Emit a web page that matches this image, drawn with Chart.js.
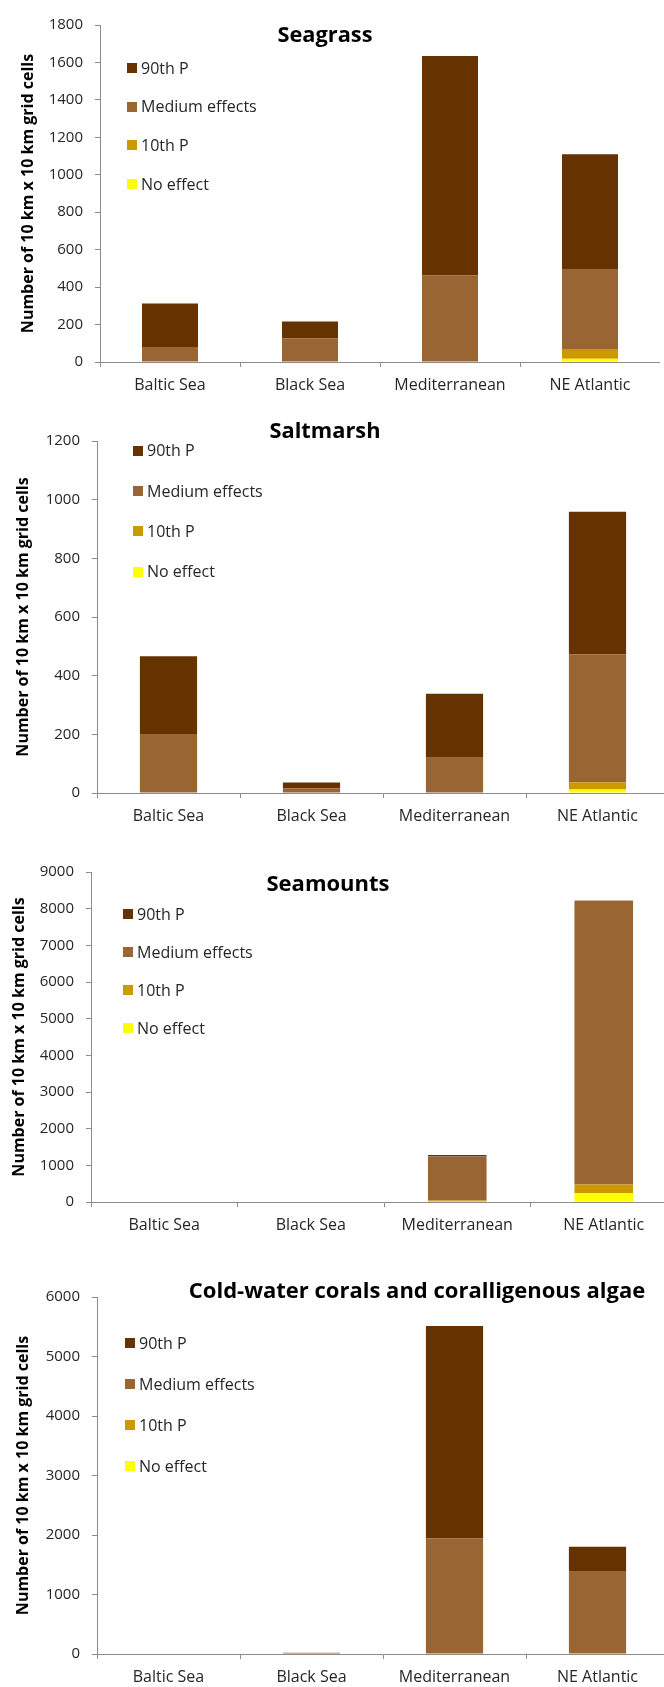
<!DOCTYPE html>
<html>
<head>
<meta charset="utf-8">
<title>Habitat effects by region</title>
<script src="https://cdn.jsdelivr.net/npm/chart.js@4.4.1/dist/chart.umd.min.js"></script>
<style>
  html, body { margin: 0; padding: 0; background: #fff; overflow: hidden; }
  #page { position: relative; width: 664px; height: 1687px; overflow: hidden; }
  #page canvas { position: absolute; left: 0; }
</style>
</head>
<body>
<div id="page">
  <canvas id="seagrassChart"></canvas>
  <canvas id="saltmarshChart"></canvas>
  <canvas id="seamountsChart"></canvas>
  <canvas id="coralsChart"></canvas>
</div>
<script>
// ── Data ──────────────────────────────────────────────────────────────
const regions      = ['Baltic Sea', 'Black Sea', 'Mediterranean', 'NE Atlantic'];
const effectLabels = ['No effect', '10th P', 'Medium effects', '90th P']; // stack order, bottom up
const effectColors = ['#FFFF00', '#CC9900', '#996633', '#663300'];
const axisTitle    = 'Number of 10 km x 10 km grid cells';

// Seagrass
const seagrassNoEffect = [0, 0, 0, 17];
const seagrassP10      = [0, 0, 0, 52];
const seagrassMedium   = [80, 126, 462, 428];
const seagrassP90      = [232, 90, 1172, 612];
const seagrassTicks    = [0, 200, 400, 600, 800, 1000, 1200, 1400, 1600, 1800];

// Saltmarsh
const saltmarshNoEffect = [0, 0, 0, 12];
const saltmarshP10      = [0, 0, 0, 25];
const saltmarshMedium   = [201, 15, 123, 435];
const saltmarshP90      = [265, 21, 215, 487];
const saltmarshTicks    = [0, 200, 400, 600, 800, 1000, 1200];

// Seamounts
const seamountsNoEffect = [0, 0, 0, 240];
const seamountsP10      = [0, 0, 40, 240];
const seamountsMedium   = [0, 0, 1200, 7740];
const seamountsP90      = [0, 0, 45, 0];
const seamountsTicks    = [0, 1000, 2000, 3000, 4000, 5000, 6000, 7000, 8000, 9000];

// Cold-water corals and coralligenous algae
const coralsNoEffect = [0, 0, 0, 0];
const coralsP10      = [0, 0, 0, 0];
const coralsMedium   = [0, 20, 1940, 1393];
const coralsP90      = [0, 0, 3574, 410];
const coralsTicks    = [0, 1000, 2000, 3000, 4000, 5000, 6000];

// ── Page layout (px on the page) ──────────────────────────────────────
const PAD_TOP   = 12;
const X_AXIS_H  = 45;
const AXIS_GREY = '#8c8c8c';
const INK       = '#262626';
const Y_TITLE_SIZE = 16;

const panels = [
  { id: 'seagrassChart', title: 'Seagrass',
    series: [seagrassNoEffect, seagrassP10, seagrassMedium, seagrassP90], ticks: seagrassTicks,
    frame: { top: 16, bottom: 362, left: 100, right: 660 }, yTitleX: 28,
    titleAt: { x: 325, y: 36, w: 95 }, legendAt: { x: 127, y: 68, gap: 38.7 } },
  { id: 'saltmarshChart', title: 'Saltmarsh',
    series: [saltmarshNoEffect, saltmarshP10, saltmarshMedium, saltmarshP90], ticks: saltmarshTicks,
    frame: { top: 432, bottom: 793, left: 97, right: 669 }, yTitleX: 23.3,
    titleAt: { x: 325, y: 432, w: 111 }, legendAt: { x: 133, y: 450.7, gap: 40.3 } },
  { id: 'seamountsChart', title: 'Seamounts',
    series: [seamountsNoEffect, seamountsP10, seamountsMedium, seamountsP90], ticks: seamountsTicks,
    frame: { top: 863, bottom: 1202, left: 91, right: 677 }, yTitleX: 19,
    titleAt: { x: 328, y: 885, w: 125 }, legendAt: { x: 123, y: 914, gap: 38.1 } },
  { id: 'coralsChart', title: 'Cold-water corals and coralligenous algae',
    series: [coralsNoEffect, coralsP10, coralsMedium, coralsP90], ticks: coralsTicks,
    frame: { top: 1288, bottom: 1654, left: 97, right: 669 }, yTitleX: 23.3,
    titleAt: { x: 417, y: 1292, w: 461 }, legendAt: { x: 125, y: 1343.3, gap: 41 } },
];

Chart.defaults.font.family = '"Open Sans", sans-serif';
Chart.defaults.color = INK;

// Panel title and the in-plot legend (top entry = top of the stack)
const panelDecor = {
  id: 'panelDecor',
  afterDraw(chart, args, opts) {
    const ctx = chart.ctx;
    ctx.save();
    ctx.textBaseline = 'middle';

    ctx.font = 'bold 22px "Open Sans", sans-serif';
    ctx.fillStyle = '#000';
    ctx.textAlign = 'center';
    ctx.fillText(opts.title, opts.titleX, opts.titleY, opts.titleW);

    ctx.font = '16px "Open Sans", sans-serif';
    ctx.textAlign = 'left';
    const sets = chart.data.datasets.slice().reverse();
    sets.forEach((ds, i) => {
      const y = opts.legendY + i * opts.legendGap;
      ctx.fillStyle = ds.backgroundColor;
      ctx.fillRect(opts.legendX, Math.round(y - 5), 10, 10);
      ctx.fillStyle = INK;
      ctx.fillText(ds.label, opts.legendX + 14, y + 1);
    });
    ctx.restore();
  }
};

panels.forEach(p => {
  const canvas = document.getElementById(p.id);
  const top = p.frame.top - PAD_TOP;
  const height = p.frame.bottom - p.frame.top + PAD_TOP + X_AXIS_H;
  canvas.width = p.frame.right;
  canvas.height = height;
  canvas.style.top = top + 'px';
  canvas.style.width = p.frame.right + 'px';
  canvas.style.height = height + 'px';

  const yMin  = p.ticks[0];
  const yMax  = p.ticks[p.ticks.length - 1];
  const yStep = p.ticks[1] - p.ticks[0];
  const yLineH = Y_TITLE_SIZE * 1.2;

  new Chart(canvas, {
    type: 'bar',
    data: {
      labels: regions,
      datasets: p.series.map((values, i) => ({
        label: effectLabels[i],
        data: values,
        backgroundColor: effectColors[i],
        borderWidth: 0,
        barPercentage: 0.4,
        categoryPercentage: 1.0,
      })),
    },
    options: {
      responsive: false,
      animation: false,
      devicePixelRatio: 1,
      layout: { padding: { top: PAD_TOP, left: 0, right: 0, bottom: 0 } },
      plugins: {
        legend: { display: false },
        tooltip: { enabled: false },
        panelDecor: {
          title: p.title,
          titleX: p.titleAt.x, titleY: p.titleAt.y - top, titleW: p.titleAt.w,
          legendX: p.legendAt.x, legendY: p.legendAt.y - top, legendGap: p.legendAt.gap,
        },
      },
      scales: {
        x: {
          stacked: true,
          grid: { display: true, drawOnChartArea: false, drawTicks: true, tickLength: 5, color: AXIS_GREY, offset: true },
          border: { display: true, color: AXIS_GREY, width: 1 },
          ticks: { font: { size: 16 }, color: INK, padding: 9, maxRotation: 0, autoSkip: false },
          afterFit: scale => { scale.height = X_AXIS_H; },
        },
        y: {
          stacked: true,
          min: yMin,
          max: yMax,
          grid: { display: true, drawOnChartArea: false, drawTicks: true, tickLength: 5, color: AXIS_GREY },
          border: { display: true, color: AXIS_GREY, width: 1 },
          ticks: { stepSize: yStep, font: { size: 15 }, color: INK, padding: 12, callback: v => String(v) },
          title: {
            display: true,
            text: axisTitle,
            color: '#000',
            font: { size: Y_TITLE_SIZE, weight: 'bold' },
            padding: { top: p.yTitleX - yLineH / 2, bottom: 0 },
          },
          afterFit: scale => { scale.width = p.frame.left; },
        },
      },
    },
    plugins: [panelDecor],
  });
});
</script>
</body>
</html>
